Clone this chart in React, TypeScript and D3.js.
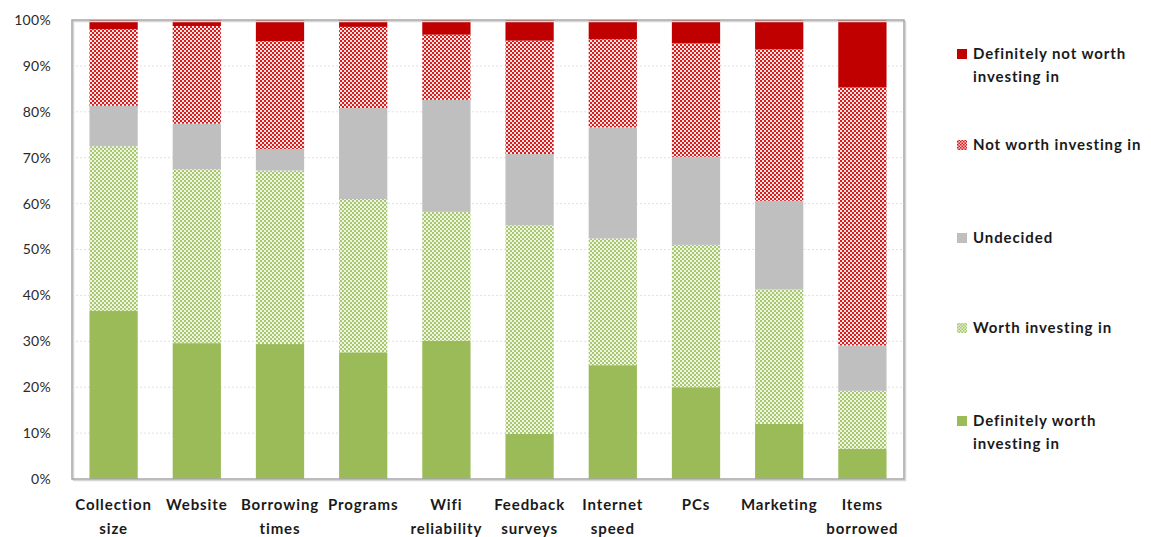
import React from "react";
import * as d3 from "d3";

// Survey responses per library service (percent of respondents)
const categories = [
  ["Collection", "size"],
  ["Website"],
  ["Borrowing", "times"],
  ["Programs"],
  ["Wifi", "reliability"],
  ["Feedback", "surveys"],
  ["Internet", "speed"],
  ["PCs"],
  ["Marketing"],
  ["Items", "borrowed"],
];

const definitelyWorth = [36.6, 29.6, 29.4, 27.6, 30.1, 9.8, 24.8, 20.0, 12.0, 6.6];
const worth = [35.9, 37.9, 37.8, 33.4, 28.1, 45.5, 27.6, 31.0, 29.3, 12.6];
const undecided = [8.8, 9.9, 4.7, 19.8, 24.4, 15.5, 24.2, 19.2, 19.3, 9.9];
const notWorth = [16.7, 21.3, 23.5, 17.7, 14.2, 24.7, 19.2, 24.7, 33.0, 56.2];
const definitelyNotWorth = [2.0, 1.3, 4.6, 1.5, 3.2, 4.5, 4.2, 5.1, 6.4, 14.7];

const yTicks = [0, 10, 20, 30, 40, 50, 60, 70, 80, 90, 100];

const W = 1151;
const H = 537;
const plot = { left: 72, right: 904, top: 20, bottom: 479 };

const fills = ["#9bbb59", "url(#patGreen)", "#bfbfbf", "url(#patRed)", "#c00000"];

const legendItems = [
  { fill: "#c00000", lines: ["Definitely not worth", "investing in"], y: 54 },
  { fill: "url(#patRedL)", lines: ["Not worth investing in"], y: 145 },
  { fill: "#bfbfbf", lines: ["Undecided"], y: 238 },
  { fill: "url(#patGreenL)", lines: ["Worth investing in"], y: 328 },
  { fill: "#9bbb59", lines: ["Definitely worth", "investing in"], y: 421 },
];

export default function App() {
  const keys = categories.map((c) => c.join(" "));
  const rows = keys.map((k, i) => ({
    key: k,
    s0: definitelyWorth[i],
    s1: worth[i],
    s2: undecided[i],
    s3: notWorth[i],
    s4: definitelyNotWorth[i],
  }));
  const stack = d3.stack<any>().keys(["s0", "s1", "s2", "s3", "s4"])(rows);

  const x = d3
    .scaleBand<string>()
    .domain(keys)
    .range([plot.left, plot.right])
    .paddingInner(0.42)
    .paddingOuter(0.21);
  const y = d3.scaleLinear().domain([0, 100]).range([plot.bottom, plot.top]);

  const font = "Lato, 'Open Sans', sans-serif";

  return (
    <svg
      width={W}
      height={H}
      style={{ position: "absolute", left: 0, top: 0, background: "#fff" }}
    >
      <defs>
        <pattern id="patRed" width="4" height="4" patternUnits="userSpaceOnUse">
          <rect width="4" height="4" fill="#fbe3e3" />
          <rect width="2" height="2" fill="#d91c1c" />
          <rect x="2" y="2" width="2" height="2" fill="#d91c1c" />
        </pattern>
        <pattern id="patGreen" width="4" height="4" patternUnits="userSpaceOnUse">
          <rect width="4" height="4" fill="#eef4e2" />
          <rect width="2" height="2" fill="#a9c870" />
          <rect x="2" y="2" width="2" height="2" fill="#a9c870" />
        </pattern>
        <pattern id="patRedL" width="3" height="3" patternUnits="userSpaceOnUse">
          <rect width="3" height="3" fill="#f5c0c0" />
          <rect width="1.5" height="1.5" fill="#d91c1c" />
          <rect x="1.5" y="1.5" width="1.5" height="1.5" fill="#d91c1c" />
        </pattern>
        <pattern id="patGreenL" width="3" height="3" patternUnits="userSpaceOnUse">
          <rect width="3" height="3" fill="#e3edd0" />
          <rect width="1.5" height="1.5" fill="#a9c870" />
          <rect x="1.5" y="1.5" width="1.5" height="1.5" fill="#a9c870" />
        </pattern>
      </defs>

      {/* gridlines */}
      {yTicks
        .filter((t) => t > 0 && t < 100)
        .map((t) => (
          <line
            key={t}
            x1={plot.left}
            x2={plot.right}
            y1={y(t)}
            y2={y(t)}
            stroke="#e0e0e0"
            strokeDasharray="2,2"
          />
        ))}

      {/* stacked bars */}
      {stack.map((layer, si) => (
        <g key={si} fill={fills[si]}>
          {layer.map((d, i) => (
            <rect
              key={i}
              x={x(keys[i])}
              y={y(d[1])}
              width={x.bandwidth()}
              height={Math.max(0, y(d[0]) - y(d[1]))}
            />
          ))}
        </g>
      ))}

      {/* plot frame with soft shadow */}
      <rect
        x={plot.left + 1.5}
        y={plot.top + 1.5}
        width={plot.right - plot.left}
        height={plot.bottom - plot.top}
        fill="none"
        stroke="#d6d6d6"
        strokeWidth={1.5}
      />
      <rect
        x={plot.left}
        y={plot.top}
        width={plot.right - plot.left}
        height={plot.bottom - plot.top}
        fill="none"
        stroke="#a6a6a6"
        strokeWidth={1.5}
      />

      {/* y axis labels */}
      {yTicks.map((t) => (
        <text
          key={t}
          x={51}
          y={y(t)}
          dy="0.35em"
          textAnchor="end"
          fontFamily={font}
          fontSize={14}
          fill="#2a2a2a"
          letterSpacing={0.3}
        >
          {t}%
        </text>
      ))}

      {/* category labels */}
      {categories.map((lines, i) => (
        <text
          key={i}
          x={(x(keys[i]) as number) + x.bandwidth() / 2}
          y={505}
          textAnchor="middle"
          fontFamily={font}
          fontSize={15}
          fontWeight={700}
          fill="#1a1a1a"
          letterSpacing={0.9}
        >
          {lines.map((l, j) => (
            <tspan key={j} x={(x(keys[i]) as number) + x.bandwidth() / 2} dy={j === 0 ? "0.35em" : 24}>
              {l}
            </tspan>
          ))}
        </text>
      ))}

      {/* legend */}
      {legendItems.map((it, i) => (
        <g key={i}>
          <rect x={957} y={it.y - 5} width={10} height={10} fill={it.fill} />
          <text fontFamily={font} fontSize={15} fontWeight={700} fill="#1a1a1a" letterSpacing={0.9}>
            {it.lines.map((l, j) => (
              <tspan key={j} x={973} y={it.y + j * 23} dy="0.35em">
                {l}
              </tspan>
            ))}
          </text>
        </g>
      ))}
    </svg>
  );
}
